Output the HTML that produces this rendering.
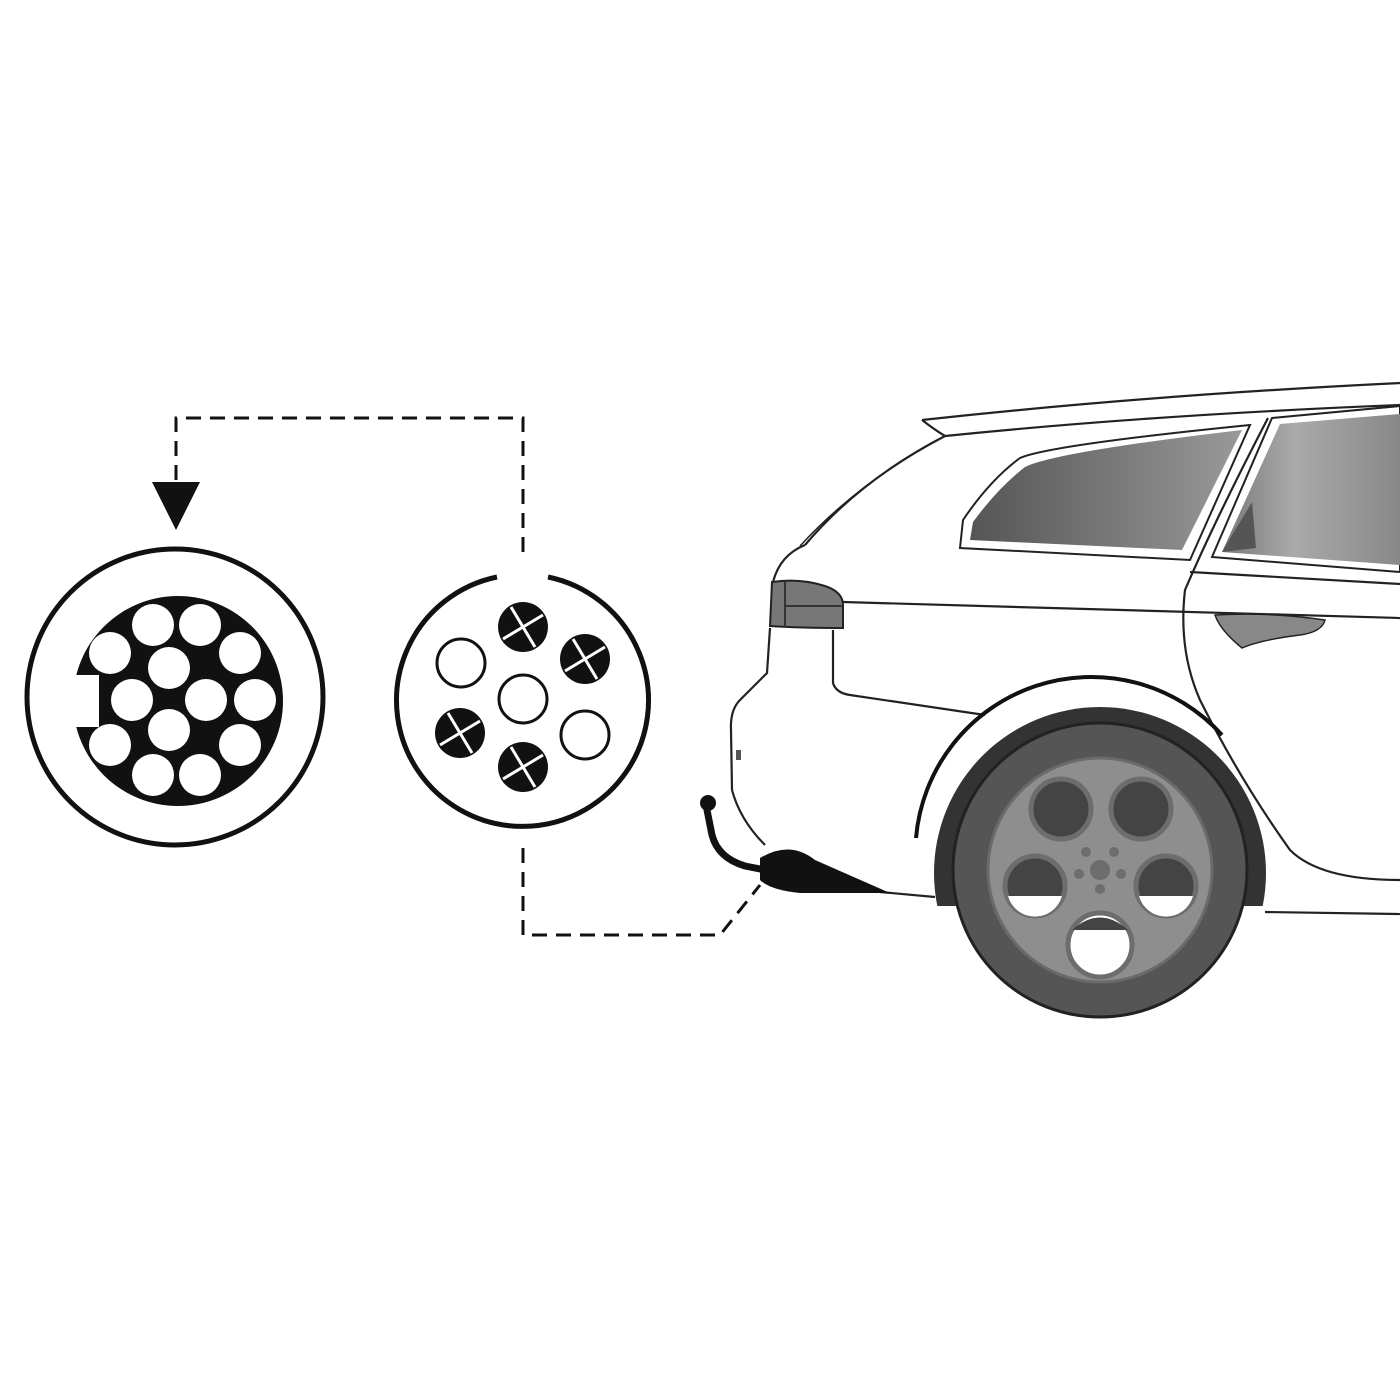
<!DOCTYPE html>
<html><head><meta charset="utf-8"><style>html,body{margin:0;padding:0;background:#fff}svg{display:block}</style></head>
<body>
<svg width="1400" height="1400" viewBox="0 0 1400 1400" xmlns="http://www.w3.org/2000/svg">
<defs>
<linearGradient id="win" x1="0" x2="1" y1="0" y2="0"><stop offset="0" stop-color="#555"/><stop offset="1" stop-color="#999"/></linearGradient>
<linearGradient id="win2" x1="0" x2="1" y1="0" y2="0"><stop offset="0" stop-color="#777"/><stop offset="0.4" stop-color="#aaa"/><stop offset="1" stop-color="#888"/></linearGradient>
<clipPath id="archclip"><rect x="0" y="0" width="1400" height="906"/></clipPath>
</defs>

<g fill="none" stroke="#111" stroke-width="3" stroke-dasharray="15 9">
<polyline points="523,552 523,418 176,418 176,485"/>
<polyline points="523,848 523,935 720,935 760,885"/>
</g>
<polygon points="152,482 200,482 176,530" fill="#111"/>

<circle cx="175" cy="697" r="148" fill="none" stroke="#111" stroke-width="5"/>
<circle cx="178" cy="701" r="105" fill="#111"/>
<rect x="70" y="675" width="29" height="52" fill="#fff"/>
<g fill="#fff">
<circle cx="153" cy="625" r="21"/><circle cx="200" cy="625" r="21"/>
<circle cx="110" cy="653" r="21"/><circle cx="240" cy="653" r="21"/>
<circle cx="169" cy="668" r="21"/>
<circle cx="132" cy="700" r="21"/><circle cx="206" cy="700" r="21"/><circle cx="255" cy="700" r="21"/>
<circle cx="169" cy="730" r="21"/>
<circle cx="110" cy="745" r="21"/><circle cx="240" cy="745" r="21"/>
<circle cx="153" cy="775" r="21"/><circle cx="200" cy="775" r="21"/>
</g>

<path d="M497,577 A126,126 0 1 0 548,577" fill="none" stroke="#111" stroke-width="5"/>
<g fill="none" stroke="#111" stroke-width="3">
<circle cx="461" cy="663" r="24"/><circle cx="523" cy="699" r="24"/><circle cx="585" cy="735" r="24"/>
</g>
<g>
<g transform="translate(523,627)"><circle r="25" fill="#111"/><path d="M-20,12 L20,-12 M-12,-20 L12,20" stroke="#fff" stroke-width="3"/></g>
<g transform="translate(585,659)"><circle r="25" fill="#111"/><path d="M-20,12 L20,-12 M-12,-20 L12,20" stroke="#fff" stroke-width="3"/></g>
<g transform="translate(460,733)"><circle r="25" fill="#111"/><path d="M-20,12 L20,-12 M-12,-20 L12,20" stroke="#fff" stroke-width="3"/></g>
<g transform="translate(523,767)"><circle r="25" fill="#111"/><path d="M-20,12 L20,-12 M-12,-20 L12,20" stroke="#fff" stroke-width="3"/></g>
</g>

<g fill="none" stroke="#222" stroke-width="2.2" stroke-linejoin="round">
<path d="M922,420 Q1150,395 1400,383"/>
<path d="M922,420 Q935,430 945,436 Q1150,415 1400,405"/>
<path d="M945,436 Q860,480 805,545"/>
<path d="M938,440 Q858,483 800,546" stroke-width="1.5"/>
<path d="M805,545 Q780,555 773,582"/>
<path d="M770,628 L767,673 L740,700 Q730,710 731,730 L732,790 Q740,820 765,845"/>
<path d="M880,892 L935,897"/>
<path d="M1265,912 L1400,914"/>
<path d="M843,602 L1400,618"/>
<path d="M1190,572 L1400,584"/>
<path d="M833,630 L833,683 Q836,693 850,695 L985,715"/>
<path d="M1268,418 Q1215,520 1185,590 Q1178,650 1200,700 Q1240,780 1290,850 Q1320,880 1400,880"/>
</g>
<path d="M960,548 L963,520 Q990,480 1020,458 Q1050,445 1250,425 L1190,560 Z" fill="#fff" stroke="#222" stroke-width="2"/>
<path d="M970,540 L973,522 Q998,488 1025,467 Q1055,452 1242,430 L1182,550 Z" fill="url(#win)"/>
<path d="M1272,418 L1400,406 L1400,572 L1212,557 Z" fill="#fff" stroke="#222" stroke-width="2"/>
<path d="M1280,424 L1400,414 L1400,565 L1222,552 Z" fill="url(#win2)"/>
<path d="M1222,552 L1252,502 L1256,548 Z" fill="#555"/>
<path d="M1215,615 Q1270,612 1325,620 Q1322,632 1300,635 Q1260,640 1242,648 Q1220,630 1215,615 Z" fill="#888" stroke="#222" stroke-width="1.5"/>
<path d="M772,582 Q800,578 825,586 Q843,592 843,605 L843,628 Q800,628 770,626 Z" fill="#777" stroke="#222" stroke-width="2"/>
<path d="M785,582 L785,627 M785,606 L843,606" stroke="#333" stroke-width="2"/>
<rect x="736" y="750" width="5" height="10" fill="#555"/>
<circle cx="1100" cy="873" r="166" fill="#333" clip-path="url(#archclip)"/>
<path d="M916,838 A176,176 0 0 1 1222,735" fill="none" stroke="#111" stroke-width="4"/>
<circle cx="1100" cy="870" r="147" fill="#555" stroke="#222" stroke-width="3"/>
<circle cx="1100" cy="870" r="112" fill="#8e8e8e" stroke="#6a6a6a" stroke-width="3"/>
<g stroke="#6d6d6d" stroke-width="5" fill="#444">
<circle cx="1061" cy="809" r="30"/>
<circle cx="1141" cy="809" r="30"/>
<circle cx="1035" cy="886" r="30"/>
<circle cx="1166" cy="886" r="30"/>
</g>
<path d="M1008,896 L1062,896 A28,28 0 0 1 1008,896 Z" fill="#fff"/>
<path d="M1139,896 L1193,896 A28,28 0 0 1 1139,896 Z" fill="#fff"/>
<circle cx="1100" cy="945" r="32" fill="#fff" stroke="#6d6d6d" stroke-width="5"/>
<path d="M1072,930 Q1100,905 1128,930" fill="#444"/>
<g fill="#6d6d6d">
<circle cx="1100" cy="870" r="10"/>
<circle cx="1086" cy="852" r="5"/><circle cx="1114" cy="852" r="5"/>
<circle cx="1079" cy="874" r="5"/><circle cx="1121" cy="874" r="5"/>
<circle cx="1100" cy="889" r="5"/>
</g>
<circle cx="708" cy="803" r="8" fill="#111"/>
<path d="M706,805 L712,835 Q718,858 745,866 L765,870" fill="none" stroke="#111" stroke-width="7" stroke-linecap="round"/>
<path d="M760,858 Q790,840 815,860 L890,893 L800,893 Q770,890 760,880 Z" fill="#111"/>
</svg>
</body></html>
